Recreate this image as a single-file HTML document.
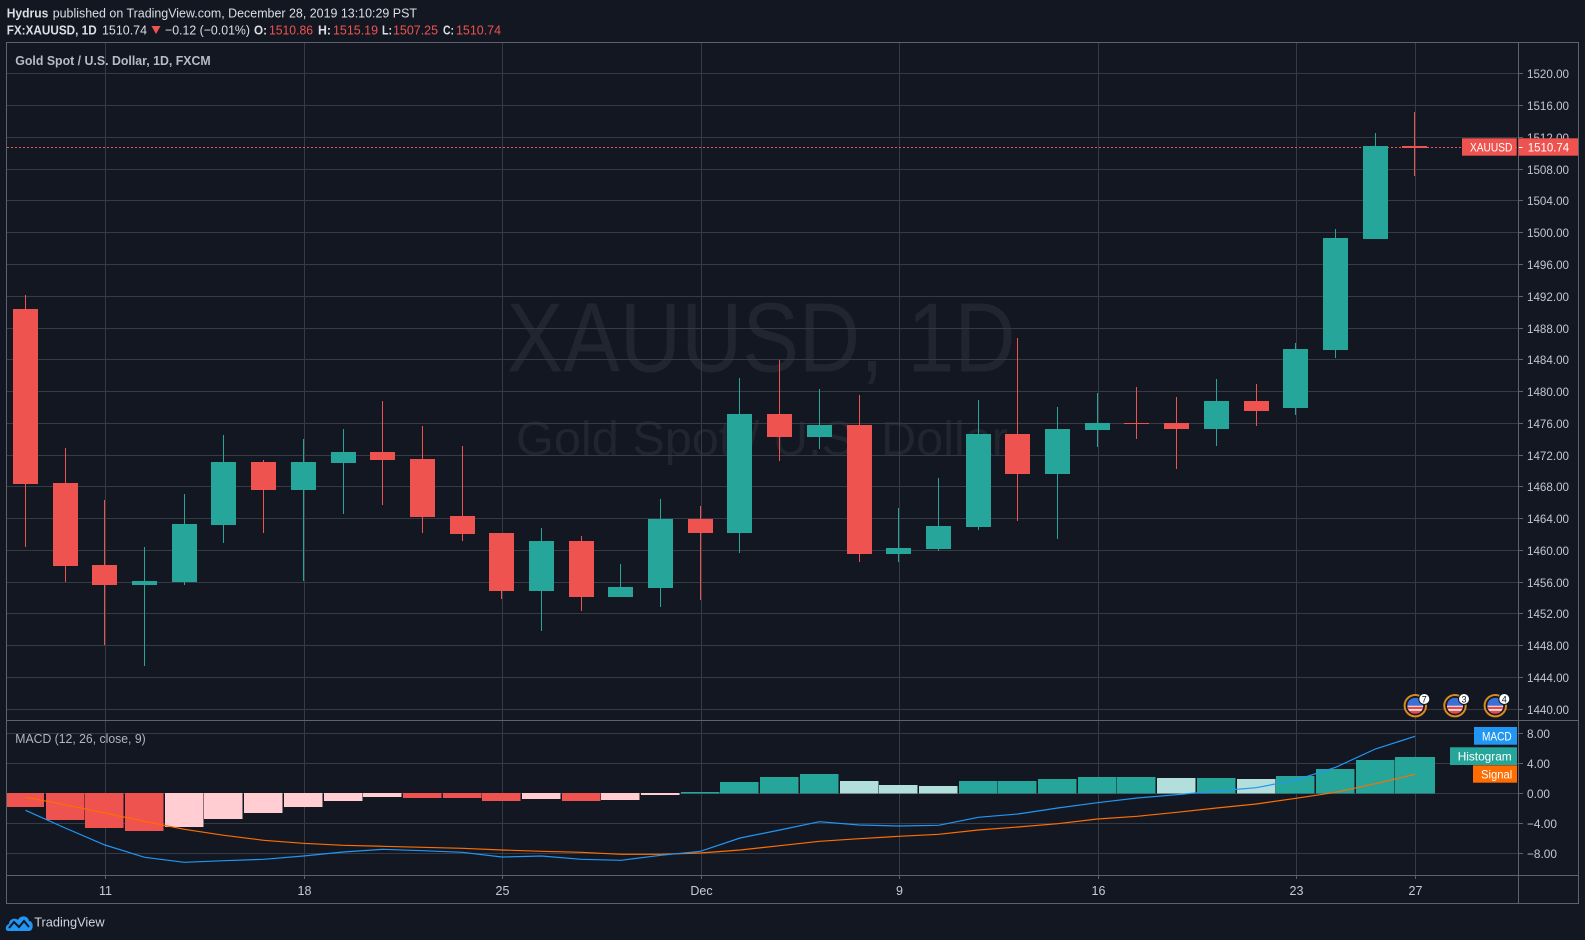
<!DOCTYPE html>
<html><head><meta charset="utf-8"><style>
html,body{margin:0;padding:0;background:#131722;width:1585px;height:940px;overflow:hidden}
svg{display:block}
text{font-family:"Liberation Sans",sans-serif}
</style></head><body>
<svg width="1585" height="940" viewBox="0 0 1585 940" xmlns="http://www.w3.org/2000/svg">
<rect x="0" y="0" width="1585" height="940" fill="#131722"/>

<!-- Header -->
<text x="6.7" y="17.3" font-size="13" font-weight="bold" fill="#dcdee3" textLength="41.6" lengthAdjust="spacingAndGlyphs">Hydrus</text>
<text x="52.7" y="17.3" font-size="13" fill="#dcdee3" textLength="364.3" lengthAdjust="spacingAndGlyphs">published on TradingView.com, December 28, 2019 13:10:29 PST</text>
<text x="6.7" y="34.3" font-size="13" font-weight="bold" fill="#dcdee3" textLength="90" lengthAdjust="spacingAndGlyphs">FX:XAUUSD, 1D</text>
<text x="102" y="34.3" font-size="13" fill="#dcdee3" textLength="45" lengthAdjust="spacingAndGlyphs">1510.74</text>
<polygon points="151.5,26 160.5,26 156,34" fill="#ef5350"/>
<text x="165" y="34.3" font-size="13" fill="#dcdee3" textLength="85" lengthAdjust="spacingAndGlyphs">−0.12 (−0.01%)</text>
<text x="254" y="34.3" font-size="13" font-weight="bold" fill="#dcdee3" textLength="13" lengthAdjust="spacingAndGlyphs">O:</text>
<text x="269" y="34.3" font-size="13" fill="#ef5350" textLength="44" lengthAdjust="spacingAndGlyphs">1510.86</text>
<text x="318" y="34.3" font-size="13" font-weight="bold" fill="#dcdee3" textLength="13" lengthAdjust="spacingAndGlyphs">H:</text>
<text x="333" y="34.3" font-size="13" fill="#ef5350" textLength="45" lengthAdjust="spacingAndGlyphs">1515.19</text>
<text x="382" y="34.3" font-size="13" font-weight="bold" fill="#dcdee3" textLength="10" lengthAdjust="spacingAndGlyphs">L:</text>
<text x="393" y="34.3" font-size="13" fill="#ef5350" textLength="45" lengthAdjust="spacingAndGlyphs">1507.25</text>
<text x="443" y="34.3" font-size="13" font-weight="bold" fill="#dcdee3" textLength="11" lengthAdjust="spacingAndGlyphs">C:</text>
<text x="456" y="34.3" font-size="13" fill="#ef5350" textLength="45" lengthAdjust="spacingAndGlyphs">1510.74</text>

<!-- Watermark -->
<text x="506.7" y="371.7" font-size="98" fill="#21252f" textLength="509" lengthAdjust="spacingAndGlyphs">XAUUSD, 1D</text>
<text x="516" y="455" font-size="48" fill="#21252f" textLength="492" lengthAdjust="spacingAndGlyphs">Gold Spot / U.S. Dollar</text>

<!-- Grid horizontal main -->
<g stroke="#363a45" stroke-width="1">
<line x1="7" y1="73.5" x2="1518" y2="73.5"/>
<line x1="7" y1="105.5" x2="1518" y2="105.5"/>
<line x1="7" y1="137.5" x2="1518" y2="137.5"/>
<line x1="7" y1="169.5" x2="1518" y2="169.5"/>
<line x1="7" y1="200.5" x2="1518" y2="200.5"/>
<line x1="7" y1="232.5" x2="1518" y2="232.5"/>
<line x1="7" y1="264.5" x2="1518" y2="264.5"/>
<line x1="7" y1="296.5" x2="1518" y2="296.5"/>
<line x1="7" y1="328.5" x2="1518" y2="328.5"/>
<line x1="7" y1="359.5" x2="1518" y2="359.5"/>
<line x1="7" y1="391.5" x2="1518" y2="391.5"/>
<line x1="7" y1="423.5" x2="1518" y2="423.5"/>
<line x1="7" y1="455.5" x2="1518" y2="455.5"/>
<line x1="7" y1="486.5" x2="1518" y2="486.5"/>
<line x1="7" y1="518.5" x2="1518" y2="518.5"/>
<line x1="7" y1="550.5" x2="1518" y2="550.5"/>
<line x1="7" y1="582.5" x2="1518" y2="582.5"/>
<line x1="7" y1="613.5" x2="1518" y2="613.5"/>
<line x1="7" y1="645.5" x2="1518" y2="645.5"/>
<line x1="7" y1="677.5" x2="1518" y2="677.5"/>
<line x1="7" y1="709.5" x2="1518" y2="709.5"/>
<!-- MACD grid -->
<line x1="7" y1="733.5" x2="1518" y2="733.5"/>
<line x1="7" y1="763.5" x2="1518" y2="763.5"/>
<line x1="7" y1="793.5" x2="1518" y2="793.5"/>
<line x1="7" y1="823.5" x2="1518" y2="823.5"/>
<line x1="7" y1="853.5" x2="1518" y2="853.5"/>
<!-- vertical -->
<line x1="105.5" y1="43" x2="105.5" y2="875"/>
<line x1="304.5" y1="43" x2="304.5" y2="875"/>
<line x1="502.5" y1="43" x2="502.5" y2="875"/>
<line x1="701.5" y1="43" x2="701.5" y2="875"/>
<line x1="899.5" y1="43" x2="899.5" y2="875"/>
<line x1="1098.5" y1="43" x2="1098.5" y2="875"/>
<line x1="1296.5" y1="43" x2="1296.5" y2="875"/>
<line x1="1415.5" y1="43" x2="1415.5" y2="875"/>
</g>

<!-- price line -->
<line x1="7" y1="147.5" x2="1518" y2="147.5" stroke="#ef5350" stroke-width="1" stroke-dasharray="2 2"/>

<!-- Candles -->
<g fill="#ef5350">
<rect x="13" y="309" width="25" height="175"/><rect x="25" y="295" width="1" height="252"/>
<rect x="53" y="483" width="25" height="83"/><rect x="65" y="448" width="1" height="134"/>
<rect x="92" y="565" width="25" height="20"/><rect x="104" y="500" width="1" height="145"/>
<rect x="251" y="462" width="25" height="28"/><rect x="263" y="460" width="1" height="73"/>
<rect x="370" y="452" width="25" height="8"/><rect x="382" y="401" width="1" height="104"/>
<rect x="410" y="459" width="25" height="58"/><rect x="422" y="426" width="1" height="107"/>
<rect x="450" y="516" width="25" height="18"/><rect x="462" y="446" width="1" height="95"/>
<rect x="489" y="533" width="25" height="58"/><rect x="501" y="533" width="1" height="66"/>
<rect x="569" y="541" width="25" height="56"/><rect x="581" y="536" width="1" height="75"/>
<rect x="688" y="519" width="25" height="14"/><rect x="700" y="506" width="1" height="94"/>
<rect x="767" y="414" width="25" height="23"/><rect x="779" y="360" width="1" height="101"/>
<rect x="847" y="425" width="25" height="129"/><rect x="859" y="395" width="1" height="167"/>
<rect x="1005" y="434" width="25" height="40"/><rect x="1017" y="338" width="1" height="183"/>
<rect x="1124" y="423" width="25" height="1"/><rect x="1136" y="387" width="1" height="52"/>
<rect x="1164" y="423" width="25" height="6"/><rect x="1176" y="397" width="1" height="72"/>
<rect x="1244" y="401" width="25" height="10"/><rect x="1256" y="384" width="1" height="42"/>
<rect x="1402" y="146" width="25" height="2"/><rect x="1414" y="112" width="1" height="64"/>
</g>
<g fill="#26a69a">
<rect x="132" y="581" width="25" height="4"/><rect x="144" y="547" width="1" height="119"/>
<rect x="172" y="524" width="25" height="58"/><rect x="184" y="494" width="1" height="91"/>
<rect x="211" y="462" width="25" height="63"/><rect x="223" y="435" width="1" height="108"/>
<rect x="291" y="462" width="25" height="28"/><rect x="303" y="439" width="1" height="142"/>
<rect x="331" y="452" width="25" height="11"/><rect x="343" y="429" width="1" height="85"/>
<rect x="529" y="541" width="25" height="50"/><rect x="541" y="528" width="1" height="103"/>
<rect x="608" y="587" width="25" height="10"/><rect x="620" y="564" width="1" height="33"/>
<rect x="648" y="519" width="25" height="69"/><rect x="660" y="499" width="1" height="108"/>
<rect x="727" y="414" width="25" height="119"/><rect x="739" y="378" width="1" height="175"/>
<rect x="807" y="425" width="25" height="12"/><rect x="819" y="389" width="1" height="60"/>
<rect x="886" y="548" width="25" height="6"/><rect x="898" y="508" width="1" height="54"/>
<rect x="926" y="526" width="25" height="23"/><rect x="938" y="478" width="1" height="73"/>
<rect x="966" y="434" width="25" height="93"/><rect x="978" y="400" width="1" height="130"/>
<rect x="1045" y="429" width="25" height="45"/><rect x="1057" y="407" width="1" height="132"/>
<rect x="1085" y="423" width="25" height="7"/><rect x="1097" y="393" width="1" height="54"/>
<rect x="1204" y="401" width="25" height="28"/><rect x="1216" y="379" width="1" height="67"/>
<rect x="1283" y="349" width="25" height="59"/><rect x="1295" y="343" width="1" height="72"/>
<rect x="1323" y="238" width="25" height="112"/><rect x="1335" y="229" width="1" height="129"/>
<rect x="1363" y="146" width="25" height="93"/><rect x="1375" y="133" width="1" height="106"/>
</g>

<!-- Title -->
<text x="15.3" y="65" font-size="13" font-weight="bold" fill="#b8bbc3" textLength="195.4" lengthAdjust="spacingAndGlyphs">Gold Spot / U.S. Dollar, 1D, FXCM</text>

<!-- Event icons -->
<defs>
<clipPath id="fc"><circle cx="0" cy="0" r="8"/></clipPath>
</defs>
<g id="ev1" transform="translate(1415.3,705.7)">
<circle r="10.7" fill="#131722" stroke="#d98a1e" stroke-width="2"/>
<g clip-path="url(#fc)">
<rect x="-8" y="-8" width="16" height="8" fill="#3b6fd8"/>
<rect x="-8" y="0" width="16" height="8" fill="#ffffff"/>
<rect x="-8" y="1" width="16" height="2.5" fill="#e94a4a"/>
<rect x="-8" y="5" width="16" height="3" fill="#e94a4a"/>
</g>
<circle cx="9" cy="-6.7" r="5.5" fill="#ffffff" stroke="#131722" stroke-width="1"/>
<text x="9" y="-3.3" font-size="9" fill="#131722" text-anchor="middle">7</text>
</g>
<g transform="translate(1455,705.7)">
<circle r="10.7" fill="#131722" stroke="#d98a1e" stroke-width="2"/>
<g clip-path="url(#fc)">
<rect x="-8" y="-8" width="16" height="8" fill="#3b6fd8"/>
<rect x="-8" y="0" width="16" height="8" fill="#ffffff"/>
<rect x="-8" y="1" width="16" height="2.5" fill="#e94a4a"/>
<rect x="-8" y="5" width="16" height="3" fill="#e94a4a"/>
</g>
<circle cx="9" cy="-6.7" r="5.5" fill="#ffffff" stroke="#131722" stroke-width="1"/>
<text x="9" y="-3.3" font-size="9" fill="#131722" text-anchor="middle">3</text>
</g>
<g transform="translate(1495.3,705.7)">
<circle r="10.7" fill="#131722" stroke="#d98a1e" stroke-width="2"/>
<g clip-path="url(#fc)">
<rect x="-8" y="-8" width="16" height="8" fill="#3b6fd8"/>
<rect x="-8" y="0" width="16" height="8" fill="#ffffff"/>
<rect x="-8" y="1" width="16" height="2.5" fill="#e94a4a"/>
<rect x="-8" y="5" width="16" height="3" fill="#e94a4a"/>
</g>
<circle cx="9" cy="-6.7" r="5.5" fill="#ffffff" stroke="#131722" stroke-width="1"/>
<text x="9" y="-3.3" font-size="9" fill="#131722" text-anchor="middle">4</text>
</g>

<!-- MACD histogram -->
<g fill="#ef5350">
<rect x="7" y="793" width="37" height="14"/>
<rect x="46" y="793" width="38.5" height="27"/>
<rect x="85" y="793" width="38.5" height="35"/>
<rect x="125" y="793" width="38.5" height="38"/>
<rect x="403" y="793" width="38.5" height="5"/>
<rect x="443" y="793" width="38.5" height="5"/>
<rect x="482" y="793" width="38.5" height="8"/>
<rect x="562" y="793" width="38.5" height="8"/>
</g>
<g fill="#ffcdd2">
<rect x="165" y="793" width="38.5" height="34"/>
<rect x="204" y="793" width="38.5" height="26"/>
<rect x="244" y="793" width="38.5" height="20"/>
<rect x="284" y="793" width="38.5" height="14"/>
<rect x="324" y="793" width="38.5" height="8"/>
<rect x="363" y="793" width="38.5" height="4"/>
<rect x="522" y="793" width="38.5" height="6"/>
<rect x="601" y="793" width="38.5" height="7"/>
<rect x="641" y="793" width="38.5" height="2"/>
</g>
<g fill="#26a69a">
<rect x="681" y="792" width="38.5" height="1.5"/>
<rect x="720" y="782" width="38.5" height="11.5"/>
<rect x="760" y="777" width="38.5" height="16.5"/>
<rect x="800" y="774" width="38.5" height="19.5"/>
<rect x="959" y="781" width="38.5" height="12.5"/>
<rect x="998" y="781" width="38.5" height="12.5"/>
<rect x="1038" y="779" width="38.5" height="14.5"/>
<rect x="1078" y="777" width="38.5" height="16.5"/>
<rect x="1117" y="777" width="38.5" height="16.5"/>
<rect x="1197" y="778" width="38.5" height="15.5"/>
<rect x="1276" y="776" width="38.5" height="17.5"/>
<rect x="1316" y="769" width="38.5" height="24.5"/>
<rect x="1356" y="760" width="38.5" height="33.5"/>
<rect x="1395" y="757" width="40" height="36.5"/>
</g>
<g fill="#b2dfdb">
<rect x="840" y="781" width="38.5" height="12.5"/>
<rect x="879" y="785" width="38.5" height="8.5"/>
<rect x="919" y="786" width="38.5" height="7.5"/>
<rect x="1157" y="778" width="38.5" height="15.5"/>
<rect x="1237" y="779" width="38.5" height="14.5"/>
</g>

<!-- MACD lines -->
<polyline fill="none" stroke="#ff6d00" stroke-width="1.2" points="25.5,797.3 65.2,804.7 104.9,813 144.6,821.3 184.3,829.3 224,835.3 263.7,840.3 303.4,843.3 343.1,845.3 382.8,846.3 422.5,847.3 462.2,848.3 501.9,850 541.6,851.3 581.3,852.3 621,854.3 660.7,854.3 700.4,853 740.1,850 779.8,845.7 819.5,841.3 859.2,838.7 898.9,836.3 938.6,834.3 978.3,830 1018,827 1057.7,823.7 1097.4,819 1137.1,816.3 1176.8,812.3 1216.5,808 1256.2,804 1295.9,798.3 1335.6,792.3 1375.3,783.7 1415,774.3"/>
<polyline fill="none" stroke="#2196f3" stroke-width="1.2" points="25.5,810.3 65.2,828 104.9,845 144.6,857.3 184.3,862.3 224,860.7 263.7,859.3 303.4,856 343.1,852 382.8,849.3 422.5,850.7 462.2,852.3 501.9,857 541.6,856 581.3,859.3 621,860.3 660.7,855.3 700.4,851.3 740.1,838 779.8,830 819.5,821.7 859.2,825 898.9,826 938.6,825.3 978.3,817.3 1018,814 1057.7,808 1097.4,802.7 1137.1,798 1176.8,794.7 1216.5,791 1256.2,787.7 1295.9,780 1335.6,767.3 1375.3,749 1415,736.3"/>

<text x="15.3" y="743" font-size="13" fill="#b2b5be" textLength="130.4" lengthAdjust="spacingAndGlyphs">MACD (12, 26, close, 9)</text>

<!-- Frame -->
<g stroke="#5f626c" stroke-width="1" fill="none">
<rect x="6.5" y="42.5" width="1572" height="861"/>
<line x1="1518.5" y1="43" x2="1518.5" y2="903"/>
<line x1="7" y1="720.5" x2="1578" y2="720.5"/>
<line x1="7" y1="875.5" x2="1578" y2="875.5"/>
</g>

<!-- Price axis ticks -->
<g stroke="#5f626c" stroke-width="1">
<line x1="1519" y1="73.5" x2="1523" y2="73.5"/>
<line x1="1519" y1="105.5" x2="1523" y2="105.5"/>
<line x1="1519" y1="137.5" x2="1523" y2="137.5"/>
<line x1="1519" y1="169.5" x2="1523" y2="169.5"/>
<line x1="1519" y1="200.5" x2="1523" y2="200.5"/>
<line x1="1519" y1="232.5" x2="1523" y2="232.5"/>
<line x1="1519" y1="264.5" x2="1523" y2="264.5"/>
<line x1="1519" y1="296.5" x2="1523" y2="296.5"/>
<line x1="1519" y1="328.5" x2="1523" y2="328.5"/>
<line x1="1519" y1="359.5" x2="1523" y2="359.5"/>
<line x1="1519" y1="391.5" x2="1523" y2="391.5"/>
<line x1="1519" y1="423.5" x2="1523" y2="423.5"/>
<line x1="1519" y1="455.5" x2="1523" y2="455.5"/>
<line x1="1519" y1="486.5" x2="1523" y2="486.5"/>
<line x1="1519" y1="518.5" x2="1523" y2="518.5"/>
<line x1="1519" y1="550.5" x2="1523" y2="550.5"/>
<line x1="1519" y1="582.5" x2="1523" y2="582.5"/>
<line x1="1519" y1="613.5" x2="1523" y2="613.5"/>
<line x1="1519" y1="645.5" x2="1523" y2="645.5"/>
<line x1="1519" y1="677.5" x2="1523" y2="677.5"/>
<line x1="1519" y1="709.5" x2="1523" y2="709.5"/>
<line x1="1519" y1="733.5" x2="1523" y2="733.5"/>
<line x1="1519" y1="763.5" x2="1523" y2="763.5"/>
<line x1="1519" y1="793.5" x2="1523" y2="793.5"/>
<line x1="1519" y1="823.5" x2="1523" y2="823.5"/>
<line x1="1519" y1="853.5" x2="1523" y2="853.5"/>
<line x1="105.5" y1="876" x2="105.5" y2="879"/>
<line x1="304.5" y1="876" x2="304.5" y2="879"/>
<line x1="502.5" y1="876" x2="502.5" y2="879"/>
<line x1="701.5" y1="876" x2="701.5" y2="879"/>
<line x1="899.5" y1="876" x2="899.5" y2="879"/>
<line x1="1098.5" y1="876" x2="1098.5" y2="879"/>
<line x1="1296.5" y1="876" x2="1296.5" y2="879"/>
<line x1="1415.5" y1="876" x2="1415.5" y2="879"/>
</g>

<!-- Price labels -->
<g font-size="12" fill="#c3c6ce">
<text x="1527" y="77.8" textLength="42" lengthAdjust="spacingAndGlyphs">1520.00</text>
<text x="1527" y="109.8" textLength="42" lengthAdjust="spacingAndGlyphs">1516.00</text>
<text x="1527" y="141.8" textLength="42" lengthAdjust="spacingAndGlyphs">1512.00</text>
<text x="1527" y="173.8" textLength="42" lengthAdjust="spacingAndGlyphs">1508.00</text>
<text x="1527" y="204.8" textLength="42" lengthAdjust="spacingAndGlyphs">1504.00</text>
<text x="1527" y="236.8" textLength="42" lengthAdjust="spacingAndGlyphs">1500.00</text>
<text x="1527" y="268.8" textLength="42" lengthAdjust="spacingAndGlyphs">1496.00</text>
<text x="1527" y="300.8" textLength="42" lengthAdjust="spacingAndGlyphs">1492.00</text>
<text x="1527" y="332.8" textLength="42" lengthAdjust="spacingAndGlyphs">1488.00</text>
<text x="1527" y="363.8" textLength="42" lengthAdjust="spacingAndGlyphs">1484.00</text>
<text x="1527" y="395.8" textLength="42" lengthAdjust="spacingAndGlyphs">1480.00</text>
<text x="1527" y="427.8" textLength="42" lengthAdjust="spacingAndGlyphs">1476.00</text>
<text x="1527" y="459.8" textLength="42" lengthAdjust="spacingAndGlyphs">1472.00</text>
<text x="1527" y="490.8" textLength="42" lengthAdjust="spacingAndGlyphs">1468.00</text>
<text x="1527" y="522.8" textLength="42" lengthAdjust="spacingAndGlyphs">1464.00</text>
<text x="1527" y="554.8" textLength="42" lengthAdjust="spacingAndGlyphs">1460.00</text>
<text x="1527" y="586.8" textLength="42" lengthAdjust="spacingAndGlyphs">1456.00</text>
<text x="1527" y="617.8" textLength="42" lengthAdjust="spacingAndGlyphs">1452.00</text>
<text x="1527" y="649.8" textLength="42" lengthAdjust="spacingAndGlyphs">1448.00</text>
<text x="1527" y="681.8" textLength="42" lengthAdjust="spacingAndGlyphs">1444.00</text>
<text x="1527" y="713.8" textLength="42" lengthAdjust="spacingAndGlyphs">1440.00</text>
<text x="1527" y="737.8" textLength="23" lengthAdjust="spacingAndGlyphs">8.00</text>
<text x="1527" y="767.8" textLength="23" lengthAdjust="spacingAndGlyphs">4.00</text>
<text x="1527" y="797.8" textLength="23" lengthAdjust="spacingAndGlyphs">0.00</text>
<text x="1527" y="827.8" textLength="30" lengthAdjust="spacingAndGlyphs">−4.00</text>
<text x="1527" y="857.8" textLength="30" lengthAdjust="spacingAndGlyphs">−8.00</text>
</g>

<!-- Last price labels -->
<rect x="1462" y="138.3" width="54.7" height="17.4" fill="#ef5350"/>
<text x="1470" y="151.3" font-size="12" fill="#ffffff" textLength="42.3" lengthAdjust="spacingAndGlyphs">XAUUSD</text>
<rect x="1518.5" y="138.3" width="59.5" height="17.4" fill="#ef5350"/>
<line x1="1519" y1="147.5" x2="1522.5" y2="147.5" stroke="#ffffff" stroke-width="1"/>
<text x="1527.7" y="151.3" font-size="12" fill="#ffffff" textLength="41.5" lengthAdjust="spacingAndGlyphs">1510.74</text>

<!-- MACD legend labels -->
<rect x="1474" y="727" width="43" height="17.7" fill="#2196f3"/>
<text x="1482" y="740.3" font-size="12" fill="#ffffff" textLength="29.7" lengthAdjust="spacingAndGlyphs">MACD</text>
<rect x="1450" y="747.3" width="67" height="17.7" fill="#26a69a"/>
<text x="1457.7" y="760.6" font-size="12" fill="#ffffff" textLength="54" lengthAdjust="spacingAndGlyphs">Histogram</text>
<rect x="1473" y="765.3" width="44" height="17.4" fill="#ff6d00"/>
<text x="1481" y="778.4" font-size="12" fill="#ffffff" textLength="31.3" lengthAdjust="spacingAndGlyphs">Signal</text>

<!-- Time labels -->
<g font-size="12.5" fill="#c8cbd2" text-anchor="middle">
<text x="105.5" y="895">11</text>
<text x="304.5" y="895">18</text>
<text x="502.5" y="895">25</text>
<text x="701.5" y="895">Dec</text>
<text x="899.5" y="895">9</text>
<text x="1098.5" y="895">16</text>
<text x="1296.5" y="895">23</text>
<text x="1415.5" y="895">27</text>
</g>

<!-- Footer logo -->
<g transform="translate(6,911)">
<path d="M2,20 C-1,20 -1,14 3,13 C3,8 9,6 12,9 C14,4 22,4 23,10 C28,10 28,20 23,20 Z" fill="#2196f3"/>
<polyline points="3,17 8,11 13,16 18,10 23,16" fill="none" stroke="#131722" stroke-width="2"/>
</g>
<text x="34.2" y="926.5" font-size="13" fill="#d1d4dc" textLength="70.4" lengthAdjust="spacingAndGlyphs">TradingView</text>
</svg>
</body></html>
